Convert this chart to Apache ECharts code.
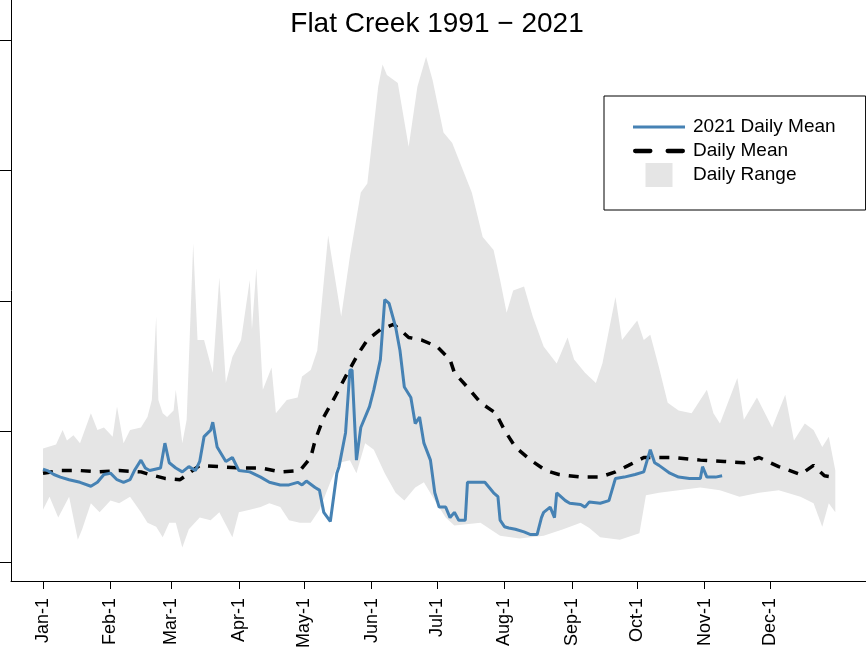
<!DOCTYPE html>
<html>
<head>
<meta charset="utf-8">
<title>Flat Creek 1991 - 2021</title>
<script src="https://cdn.jsdelivr.net/npm/echarts@6/dist/echarts.min.js"></script>
<style>
    html, body { margin: 0; padding: 0; background: #fff; }
    #flowChart { width: 866px; height: 650px; }
</style>
</head>
<body>
<div id="flowChart"></div>
<script>
// month starts (day of year) and their labels
var monthDays = [1, 32, 60, 91, 121, 152, 182, 213, 244, 274, 305, 335];
var monthLabels = ['Jan-1', 'Feb-1', 'Mar-1', 'Apr-1', 'May-1', 'Jun-1',
    'Jul-1', 'Aug-1', 'Sep-1', 'Oct-1', 'Nov-1', 'Dec-1'];
var yTicks = [0, 100, 200, 300, 400];

// [day of year, value]
var rangeUpper = [
    [1, 87], [7, 90], [10, 101], [12, 93], [15, 97], [18, 91], [23, 114], [26, 101],
    [29, 103], [33, 96], [35, 119], [38, 91], [41, 101], [46, 103], [49, 111], [51, 124],
    [53, 188], [54, 124], [56, 114], [58, 111], [61, 116], [62, 132], [65, 91], [67, 109],
    [70, 244], [72, 170], [75, 170], [79, 145], [82, 218], [85, 137], [88, 157], [92, 170],
    [96, 216], [97, 178], [99, 225], [102, 132], [106, 149], [108, 114], [113, 124], [118, 126],
    [120, 142], [124, 147], [127, 162], [132, 250], [138, 188], [142, 234], [147, 283], [150, 290],
    [155, 364], [157, 381], [159, 373], [164, 367], [169, 318], [173, 364], [177, 387], [180, 369],
    [185, 329], [189, 321], [198, 283], [203, 249], [208, 239], [211, 216], [214, 191], [217, 208],
    [222, 211], [226, 188], [231, 165], [237, 152], [242, 172], [245, 155], [250, 145], [255, 137],
    [258, 152], [264, 203], [267, 170], [274, 185], [277, 170], [280, 174], [284, 149], [288, 122],
    [293, 116], [299, 114], [306, 132], [309, 114], [312, 106], [320, 141], [323, 109], [329, 126],
    [336, 103], [342, 128], [346, 93], [351, 106], [355, 101], [359, 88], [362, 96], [365, 70]
];
var rangeLower = [
    [1, 40], [4, 50], [8, 34], [13, 50], [17, 17], [19, 25], [23, 45], [27, 38],
    [32, 47], [36, 45], [41, 50], [46, 38], [49, 30], [53, 27], [56, 19], [59, 30],
    [62, 30], [65, 11], [68, 25], [73, 34], [78, 32], [82, 38], [88, 19], [91, 38],
    [96, 40], [101, 42], [105, 45], [110, 42], [114, 32], [119, 30], [124, 30], [128, 40],
    [133, 61], [137, 76], [142, 78], [145, 68], [149, 91], [153, 86], [158, 68], [163, 53],
    [167, 47], [172, 57], [176, 61], [181, 47], [186, 34], [190, 28], [202, 30], [211, 20],
    [220, 18], [231, 20], [240, 25], [248, 30], [252, 26], [257, 19], [266, 17], [275, 22],
    [278, 51], [284, 53], [293, 55], [303, 57], [312, 55], [321, 50], [330, 53], [339, 55],
    [349, 50], [355, 45], [359, 27], [362, 45], [365, 38]
];
var dailyMean = [
    [1, 68], [9, 70], [18, 70], [27, 69], [36, 70], [46, 69], [50, 67], [57, 64],
    [64, 63], [73, 74], [82, 73], [91, 72], [101, 72], [110, 69], [119, 70], [124, 80],
    [126, 93], [130, 111], [135, 126], [140, 142], [146, 160], [150, 170], [156, 178], [162, 182],
    [165, 178], [169, 172], [175, 170], [182, 165], [188, 155], [190, 145], [197, 132], [202, 122],
    [209, 114], [213, 101], [218, 88], [225, 78], [232, 70], [238, 67], [248, 65], [257, 65],
    [264, 69], [270, 74], [277, 80], [284, 80], [291, 80], [303, 78], [314, 77], [323, 76],
    [330, 80], [339, 73], [349, 67], [355, 74], [360, 66], [364, 65]
];
var mean2021 = [
    [1, 71], [3, 70], [6, 67], [9, 65], [13, 63], [18, 61], [23, 58], [26, 61],
    [29, 67], [32, 68], [35, 63], [38, 61], [41, 63], [43, 70], [46, 78], [48, 72],
    [50, 70], [55, 72], [57, 91], [59, 76], [62, 72], [65, 69], [68, 73], [71, 70],
    [73, 77], [75, 96], [78, 101], [79, 107], [81, 88], [85, 77], [88, 80], [91, 70],
    [96, 69], [101, 65], [105, 61], [110, 59], [114, 59], [118, 61], [120, 59], [122, 62],
    [126, 57], [128, 55], [130, 38], [133, 31], [136, 68], [137, 73], [140, 99], [142, 147],
    [143, 147], [145, 78], [147, 103], [151, 119], [153, 132], [156, 155], [158, 201], [160, 198],
    [163, 180], [165, 162], [167, 134], [170, 126], [172, 106], [174, 111], [176, 91], [179, 78],
    [181, 53], [183, 42], [186, 42], [188, 34], [190, 38], [192, 32], [195, 32], [196, 61],
    [199, 61], [204, 61], [206, 57], [208, 53], [210, 50], [211, 32], [213, 27], [215, 26],
    [218, 25], [222, 23], [225, 21], [228, 21], [230, 34], [231, 38], [234, 42], [236, 34],
    [237, 53], [241, 47], [243, 45], [248, 44], [250, 42], [252, 46], [257, 45], [261, 47],
    [264, 64], [268, 65], [273, 67], [277, 69], [280, 86], [282, 76], [284, 74], [289, 68],
    [293, 65], [298, 64], [303, 64], [304, 73], [306, 65], [310, 65], [313, 66]
];

var fontName = '"Liberation Sans", Arial, sans-serif';

function renderRange(params, api) {
    // polygon: upper edge left->right, lower edge back right->left
    var points = [];
    rangeUpper.forEach(function (p) { points.push(api.coord(p)); });
    for (var i = rangeLower.length - 1; i >= 0; i--) {
        points.push(api.coord(rangeLower[i]));
    }
    return {
        type: 'polygon',
        shape: {points: points},
        style: {fill: '#e5e5e5'}
    };
}

function initFlowChart() {
    var chart = echarts.init(document.getElementById('flowChart'));
    var options = {
        animation: false,
        backgroundColor: '#fff',
        title: {
            text: 'Flat Creek 1991 \u2212 2021',
            left: 432,
            textAlign: 'center',
            top: 5,
            textStyle: {fontFamily: fontName, fontSize: 28, fontWeight: 'normal', color: '#000'}
        },
        legend: {
            orient: 'vertical',
            left: 604,
            top: 96,
            padding: [19, 30, 23, 29],
            itemWidth: 52,
            itemHeight: 24,
            itemGap: 0,
            borderColor: '#000',
            borderWidth: 1,
            textStyle: {fontFamily: fontName, fontSize: 19, color: '#000', lineHeight: 24, padding: [0, 0, 0, 3]},
            data: [
                {name: '2021 Daily Mean', icon: 'path://M0,0H52V3H0Z'},
                {name: 'Daily Mean', icon: 'path://M1,0H15A2,2 0 0 1 15,4H1A2,2 0 0 1 1,0Z M31,0H45A2,2 0 0 1 45,4H31A2,2 0 0 1 31,0Z'},
                {name: 'Daily Range', icon: 'path://M0,0H27V24H0Z'}
            ]
        },
        grid: {
            left: 11,
            right: 0,
            top: 0,
            bottom: 69,
            containLabel: false,
            outerBoundsMode: 'none'
        },
        xAxis: {
            type: 'value',
            min: -13.7,
            max: 379.1,
            splitLine: {show: false},
            axisLine: {show: true, onZero: false, lineStyle: {color: '#000', width: 1}},
            axisTick: {show: true, length: 8, customValues: monthDays, lineStyle: {color: '#000'}},
            axisLabel: {
                customValues: monthDays,
                rotate: 90,
                margin: 17,
                fontFamily: fontName,
                fontSize: 18,
                color: '#000',
                formatter: function (v) {
                    var i = monthDays.indexOf(Math.round(v));
                    return i >= 0 ? monthLabels[i] : '';
                }
            }
        },
        yAxis: {
            type: 'value',
            min: -14.6,
            max: 430.5,
            splitLine: {show: false},
            axisLine: {show: true, onZero: false, lineStyle: {color: '#000', width: 1}},
            axisTick: {show: true, length: 11, customValues: yTicks, lineStyle: {color: '#000'}},
            axisLabel: {show: false}
        },
        series: [
            {
                name: 'Daily Range',
                type: 'custom',
                renderItem: renderRange,
                data: [[1, 0]],
                itemStyle: {color: '#e5e5e5'},
                silent: true,
                z: 1
            },
            {
                name: 'Daily Mean',
                type: 'line',
                data: dailyMean,
                symbol: 'none',
                showSymbol: false,
                lineStyle: {color: '#000', width: 3.5, type: [10, 9]},
                itemStyle: {color: '#000'},
                z: 3
            },
            {
                name: '2021 Daily Mean',
                type: 'line',
                data: mean2021,
                symbol: 'none',
                showSymbol: false,
                lineStyle: {color: '#4682b4', width: 3},
                itemStyle: {color: '#4682b4'},
                z: 4
            }
        ]
    };
    chart.setOption(options);
}

initFlowChart();
</script>
</body>
</html>
